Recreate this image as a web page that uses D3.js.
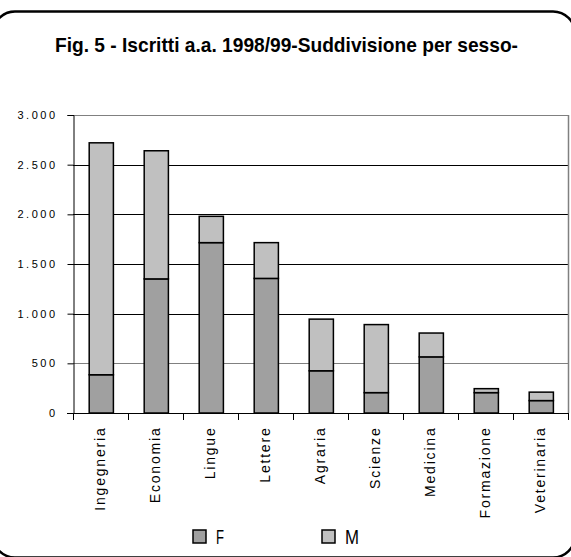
<!DOCTYPE html>
<html><head><meta charset="utf-8">
<script src="https://cdn.jsdelivr.net/npm/d3@7"></script>
<style>html,body{margin:0;padding:0;background:#fff;}svg{display:block;}</style>
</head><body>
<script>
const categories = ["Ingegneria","Economia","Lingue","Lettere","Agraria","Scienze","Medicina","Formazione","Veterinaria"];
const valuesF = [385, 1350, 1715, 1355, 425, 205, 565, 205, 125];
const valuesM = [2335, 1290, 265, 360, 520, 685, 240, 40, 85];
const seriesNames = ["F","M"];
const seriesColors = ["#a0a0a0","#c0c0c0"];
const yTicks = [0,500,1000,1500,2000,2500,3000];
const yTickLabels = ["0","500","1.000","1.500","2.000","2.500","3.000"];
const title = "Fig. 5 - Iscritti a.a. 1998/99-Suddivisione per sesso-";

const W = 571, H = 557;
const svg = d3.select("body").append("svg").attr("width", W).attr("height", H);

// frame
svg.append("rect").attr("x", -7).attr("y", 11.5).attr("width", 582).attr("height", 546)
  .attr("rx", 22).attr("ry", 22).attr("fill", "none").attr("stroke", "#000").attr("stroke-width", 2.5);

// title (condensed look)
svg.append("text").attr("x", 55).attr("y", 52)
  .attr("font-family", "'Liberation Sans',Arial,sans-serif")
  .attr("font-weight", "bold").attr("font-size", 21).attr("fill", "#000")
  .attr("textLength", 463).attr("lengthAdjust", "spacingAndGlyphs").text(title);

const x = d3.scaleBand().domain(categories).range([73, 568]).padding(0);
const y = d3.scaleLinear().domain([0, 3000]).range([413, 115]);

// gridlines
svg.append("g").selectAll("line").data(yTicks.filter(d => d > 0)).join("line")
  .attr("x1", 73).attr("x2", 568)
  .attr("y1", d => Math.round(y(d)) + 0.5).attr("y2", d => Math.round(y(d)) + 0.5)
  .attr("stroke", d => (d === 500 || d === 3000) ? "#808080" : "#000").attr("stroke-width", 1);
// right border
svg.append("line").attr("x1", 568.5).attr("x2", 568.5).attr("y1", y(3000)).attr("y2", y(0))
  .attr("stroke", "#808080").attr("stroke-width", 1.5);

// stacked bars
const stackData = categories.map((c, i) => ({cat: c, F: valuesF[i], M: valuesM[i]}));
const stack = d3.stack().keys(seriesNames)(stackData);
const bw = x.bandwidth() * 0.44;
svg.append("g").selectAll("g").data(stack).join("g")
  .attr("fill", (d, i) => seriesColors[i])
  .selectAll("rect").data(d => d).join("rect")
  .attr("x", d => x(d.data.cat) + (x.bandwidth() - bw) / 2 + 0.8)
  .attr("width", bw)
  .attr("y", d => y(d[1]))
  .attr("height", d => y(d[0]) - y(d[1]))
  .attr("stroke", "#000").attr("stroke-width", 1.5);

// y axis
const yAxis = svg.append("g").attr("transform", "translate(73.5,0)")
  .call(d3.axisLeft(y).tickValues(yTicks).tickSize(6).tickFormat((d, i) => yTickLabels[i]));
yAxis.select(".domain").attr("stroke", "#000");
yAxis.selectAll(".tick line").attr("stroke", "#000");
yAxis.selectAll(".tick text").attr("font-family", "'Liberation Sans',Arial,sans-serif")
  .attr("font-size", 11).attr("letter-spacing", "2.5px").attr("fill", "#000")
  .attr("x", -16);

// x axis
const xAxis = svg.append("g").attr("transform", "translate(0,413.5)")
  .call(d3.axisBottom(x).tickSize(0).tickSizeOuter(0));
xAxis.select(".domain").attr("stroke", "#000").attr("d", "M67,0H568");
xAxis.selectAll(".tick text")
  .attr("font-family", "'Liberation Sans',Arial,sans-serif").attr("font-size", 14)
  .attr("letter-spacing", "1.8px").attr("fill", "#000")
  .attr("text-anchor", "end").attr("transform", "rotate(-90)")
  .attr("x", -13).attr("y", 0).attr("dy", "0.35em");
// category boundary ticks
const bounds = categories.map(c => x(c)).concat([x.range()[1]]);
svg.append("g").selectAll("line").data(bounds).join("line")
  .attr("x1", d => Math.round(d) + 0.5).attr("x2", d => Math.round(d) + 0.5)
  .attr("y1", 413).attr("y2", 420).attr("stroke", "#000");

// legend
const legendWidths = [8, 14];
const leg = svg.append("g").selectAll("g").data(seriesNames).join("g")
  .attr("transform", (d, i) => `translate(${193 + i * 129},530)`);
leg.append("rect").attr("width", 13).attr("height", 13)
  .attr("fill", (d, i) => seriesColors[i]).attr("stroke", "#000").attr("stroke-width", 1.5);
leg.append("text").attr("x", 23).attr("y", 14)
  .attr("font-family", "'Liberation Sans',Arial,sans-serif")
  .attr("font-size", 20).attr("fill", "#000")
  .attr("textLength", (d, i) => legendWidths[i]).attr("lengthAdjust", "spacingAndGlyphs")
  .text(d => d);
</script>
</body></html>
